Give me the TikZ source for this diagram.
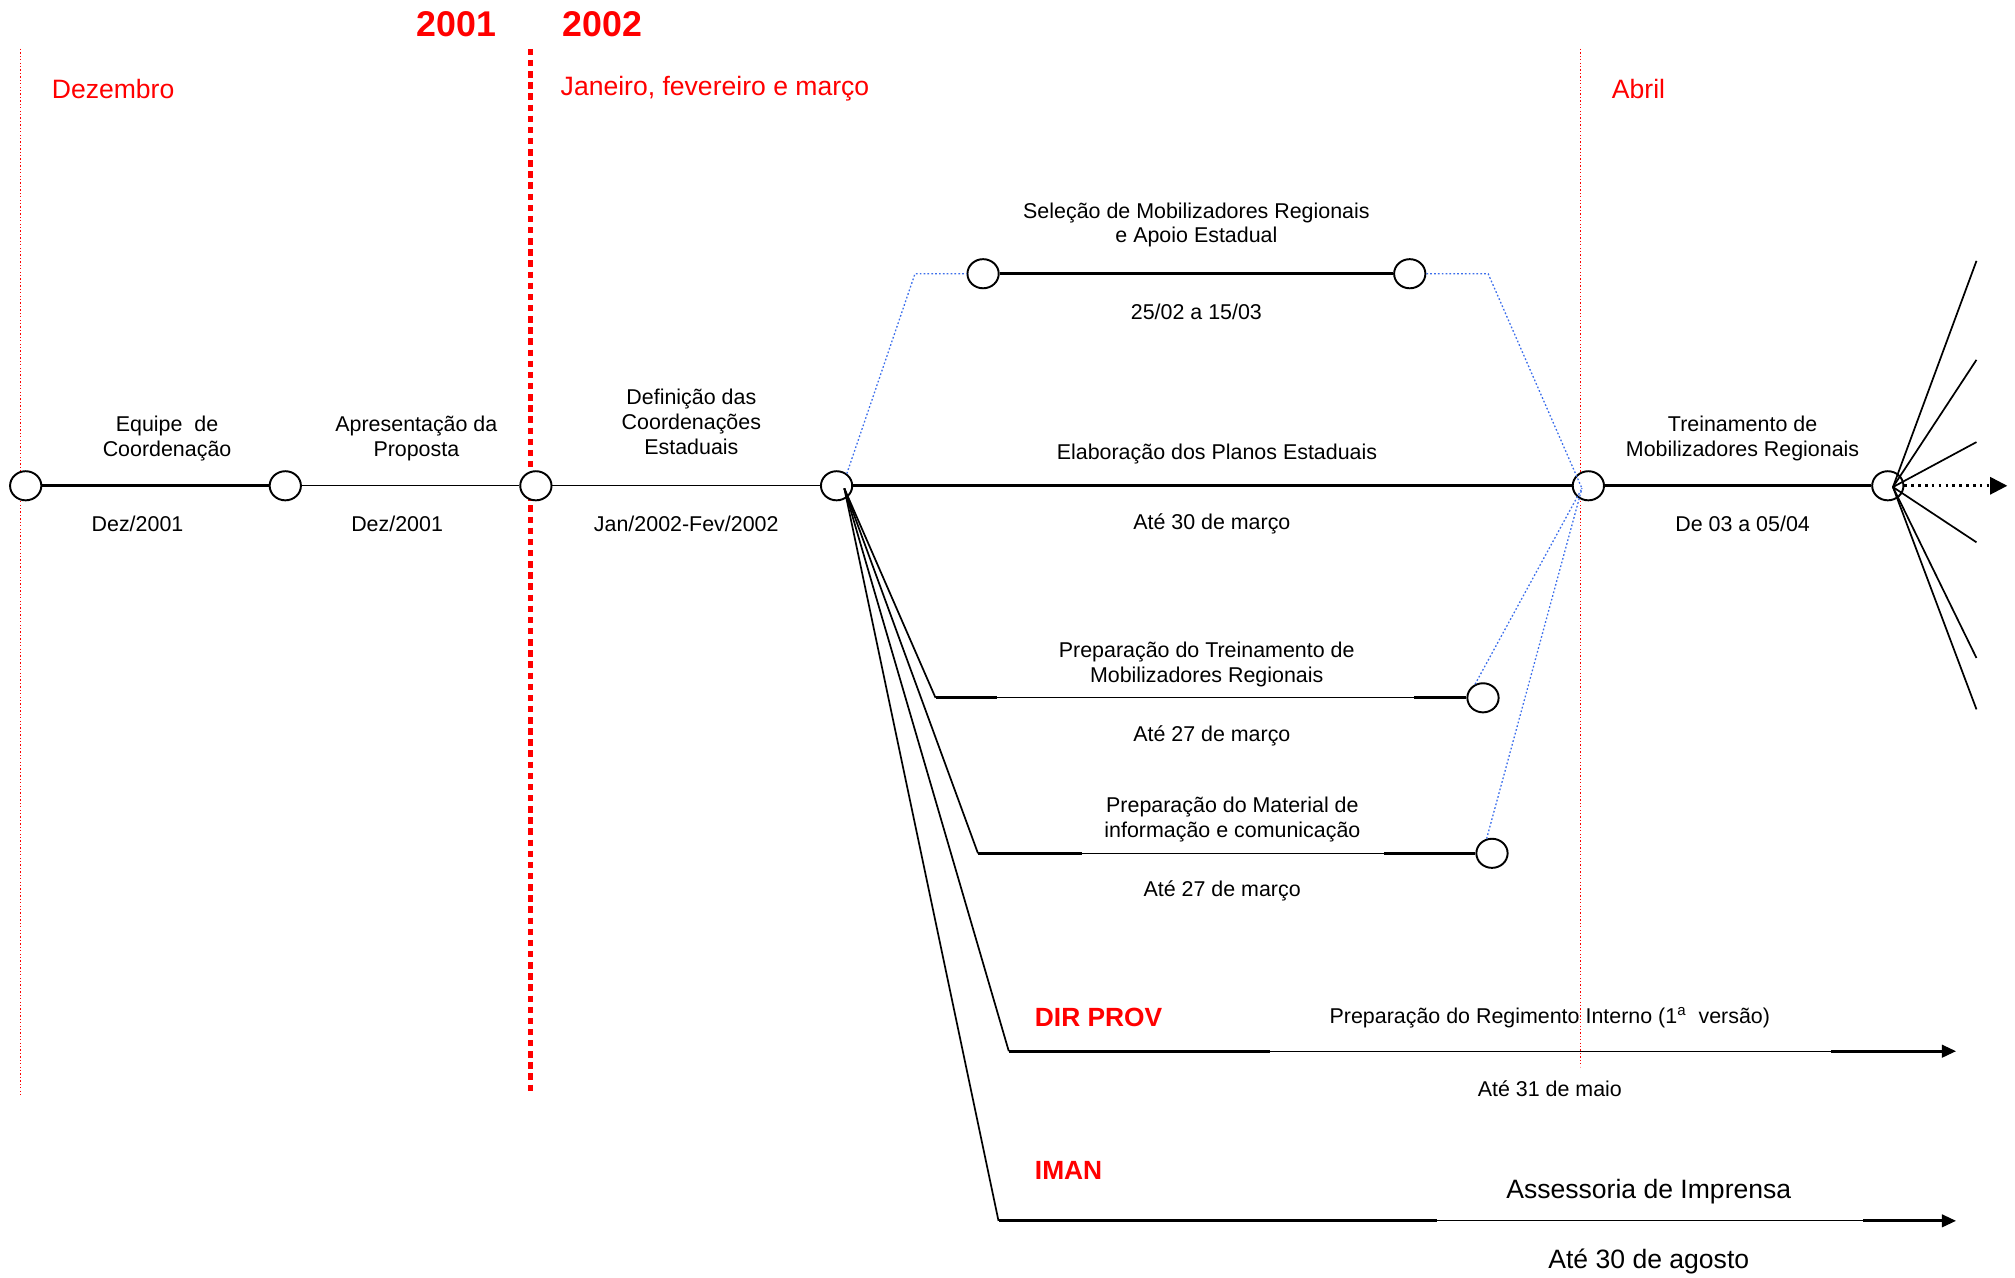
\documentclass[tikz,border=0pt]{standalone}
\usepackage{fontspec}
\setmainfont{Liberation Sans}
\usetikzlibrary{shapes.geometric,arrows.meta}

\definecolor{linkblue}{RGB}{60,110,235}

\tikzset{
  ev/.style={draw, ellipse, line width=0.9pt, fill=white,
    minimum width=14.6pt, minimum height=13.6pt, inner sep=0pt},
  lbl/.style={font=\fontsize{10}{11.6}\selectfont, align=center, inner sep=0pt},
  big/.style={font=\fontsize{12.4}{14}\selectfont, inner sep=0pt},
  mes/.style={font=\fontsize{12.4}{14}\selectfont, text=red, anchor=west, inner sep=0pt},
  ano/.style={font=\fontsize{16.7}{18}\selectfont\bfseries, text=red, inner sep=0pt},
  grp/.style={font=\fontsize{12.3}{14}\selectfont\bfseries, text=red, anchor=west, inner sep=0pt},
  fino/.style={line width=0.6pt},
  grosso/.style={line width=1.3pt},
  raio/.style={line width=0.8pt},
  azul/.style={draw=linkblue, line width=0.6pt, dash pattern=on 0.8pt off 1pt},
  limite/.style={draw=red, line width=0.6pt, dash pattern=on 0.6pt off 1pt},
  virada/.style={draw=red, line width=2.4pt, dash pattern=on 3pt off 2.2pt},
  seta/.style={-{Triangle[length=6.5pt,width=6pt]}}
}

\begin{document}
\begin{tikzpicture}[x=0.6pt,y=-0.6pt]
  \useasboundingbox (0,0) rectangle (1568,994);

  %% meses e anos
  \draw[limite] (16,38) -- (16,852);
  \draw[virada] (413,38) -- (413,850);
  \draw[limite] (1230,38) -- (1230,830);
  \node[ano] (a2001) at (355,19) {2001};
  \node[ano] (a2002) at (469,19) {2002};
  \node[mes] (dez) at (40,69) {Dezembro};
  \node[mes] (jfm) at (436,69) {Janeiro, fevereiro e março};
  \node[mes] (abr) at (1254,69) {Abril};

  %% eventos da linha principal
  \node[ev] (A) at (20,378) {};
  \node[ev] (B) at (222,378) {};
  \node[ev] (C) at (417,378) {};
  \node[ev] (D) at (651,378) {};
  \node[ev] (E) at (1236,378) {};
  \node[ev] (F) at (1469,378) {};

  \draw[grosso] (A) -- (B);
  \draw[fino] (B) -- (C);
  \draw[fino] (C) -- (D);
  \draw[grosso] (D) -- (E);
  \draw[grosso] (E) -- (F);

  \node[lbl] (equipe) at (130,341) {Equipe\ \ de\\Coordenação};
  \node[lbl] (dez1) at (107,408) {Dez/2001};
  \node[lbl] (apres) at (324,341) {Apresentação da\\Proposta};
  \node[lbl] (dez2) at (309,408) {Dez/2001};
  \node[lbl] (defin) at (538,328) {Definição das\\Coordenações\\Estaduais};
  \node[lbl] (janfev) at (534,408) {Jan/2002-Fev/2002};
  \node[lbl] (elab) at (947,353) {Elaboração dos Planos Estaduais};
  \node[lbl] (ate30) at (943,408) {Até 30 de março};
  \node[lbl] (trein) at (1356,341) {Treinamento de\\Mobilizadores Regionais};
  \node[lbl] (de03) at (1356,408) {De 03 a 05/04};

  %% selecao
  \node[ev] (S1) at (765,213) {};
  \node[ev] (S2) at (1097,213) {};
  \draw[grosso] (S1) -- (S2);
  \node[lbl] (selec) at (931,175) {Seleção de Mobilizadores Regionais\\e Apoio Estadual};
  \node[lbl] (d2502) at (931,243) {25/02 a 15/03};

  \coordinate (econv) at (1231,380);
  \coordinate (sl) at (712,213);
  \coordinate (sr) at (1158,213);
  \draw[azul] (D.50) -- (sl) -- (S1);
  \draw[azul] (S2) -- (sr) -- (econv);

  %% preparacoes
  \coordinate (dfan) at (657,380);
  \coordinate (p1s) at (728,543);
  \coordinate (p2s) at (761,664);
  \node[ev] (P1) at (1154,543) {};
  \node[ev] (P2) at (1161,664) {};

  \draw[raio] (dfan) -- (p1s);
  \draw[fino] (p1s) -- (P1);
  \draw[grosso] (p1s) -- ++(48,0);
  \draw[grosso] (P1.west) -- ++(-41,0);
  \node[lbl] (preptr) at (939,517) {Preparação do Treinamento de\\Mobilizadores Regionais};
  \node[lbl] (ate27a) at (943,573) {Até 27 de março};

  \draw[raio] (dfan) -- (p2s);
  \draw[fino] (p2s) -- (P2);
  \draw[grosso] (p2s) -- ++(81,0);
  \draw[grosso] (P2.west) -- ++(-71,0);
  \node[lbl] (prepmat) at (959,638) {Preparação do Material de\\informação e comunicação};
  \node[lbl] (ate27b) at (951,693) {Até 27 de março};

  \draw[azul] (P1.120) -- (econv);
  \draw[azul] (P2.110) -- (econv);

  %% DIR PROV
  \coordinate (dps) at (785,818);
  \coordinate (dpe) at (1522,818);
  \draw[raio] (dfan) -- (dps);
  \draw[fino, seta] (dps) -- (dpe);
  \draw[grosso] (dps) -- ++(203,0);
  \draw[grosso] (1425,818) -- (1514,818);
  \node[grp] (dirprov) at (805,792) {DIR PROV};
  \node[lbl] (regim) at (1206,792) {Preparação do Regimento Interno (1\textsuperscript{a}\ \ versão)};
  \node[lbl] (ate31) at (1206,847) {Até 31 de maio};

  %% IMAN
  \coordinate (ims) at (777,950);
  \coordinate (ime) at (1522,950);
  \draw[raio] (dfan) -- (ims);
  \draw[fino, seta] (ims) -- (ime);
  \draw[grosso] (ims) -- ++(341,0);
  \draw[grosso] (1450,950) -- (1514,950);
  \node[grp] (iman) at (805,911) {IMAN};
  \node[big] (assess) at (1283,927) {Assessoria de Imprensa};
  \node[big] (ate30ag) at (1283,982) {Até 30 de agosto};

  %% desdobramentos apos o treinamento
  \coordinate (ffan) at (1473,379);
  \foreach \y in {203,280,344,422,512,552}
    \draw[raio] (ffan) -- (1538,\y);
  \coordinate (fend) at (1562,378);
  \draw[line width=1.2pt, dotted, -{Triangle[length=8pt,width=8pt]}] (F.east) -- (fend);

\end{tikzpicture}
\end{document}
